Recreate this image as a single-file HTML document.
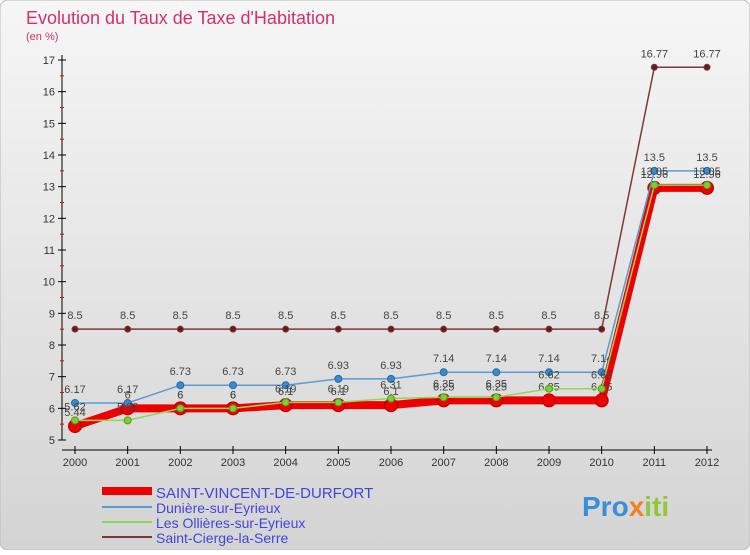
<!DOCTYPE html>
<html><head><meta charset="utf-8"><style>
body{margin:0;width:750px;height:550px;overflow:hidden;font-family:"Liberation Sans",sans-serif}
</style></head><body>
<svg id="c" width="750" height="550" xmlns="http://www.w3.org/2000/svg">
<defs><linearGradient id="bg" x1="0" y1="0" x2="0" y2="1"><stop offset="0" stop-color="#f6f6f6"/><stop offset="1" stop-color="#d4d4d4"/></linearGradient></defs>
<rect width="750" height="550" rx="8" fill="url(#bg)" stroke="#bbb"/>
<text x="26" y="24" font-size="18" fill="#d03070">Evolution du Taux de Taxe d'Habitation</text>
<text x="26" y="40" font-size="11" fill="#d03070">(en %)</text>
<g id="axes"></g><g id="series"></g>
<g>
<rect x="102" y="487" width="50" height="8" fill="#ee0000"/>
<text x="156" y="498" font-size="15" fill="#4444dd">SAINT-VINCENT-DE-DURFORT</text>
<line x1="102" y1="507" x2="152" y2="507" stroke="#5b9bd5" stroke-width="2"/>
<text x="156" y="513" font-size="14" fill="#4444dd">Dunière-sur-Eyrieux</text>
<line x1="102" y1="522" x2="152" y2="522" stroke="#8fd85a" stroke-width="2"/>
<text x="156" y="528" font-size="14" fill="#4444dd">Les Ollières-sur-Eyrieux</text>
<line x1="102" y1="537" x2="152" y2="537" stroke="#7a3a3a" stroke-width="2"/>
<text x="156" y="543" font-size="14" fill="#4444dd">Saint-Cierge-la-Serre</text>
</g>
<text x="582" y="516" font-size="28" font-weight="bold" fill="#3a8fd8">Pro<tspan fill="#f08020">x</tspan><tspan fill="#8fc83a">iti</tspan></text>
</svg>
<script>
const years=[2000,2001,2002,2003,2004,2005,2006,2007,2008,2009,2010,2011,2012];
const yTicks=[5,6,7,8,9,10,11,12,13,14,15,16,17];
const sVincent=[5.44,6,6,6,6.1,6.1,6.1,6.25,6.25,6.25,6.25,12.96,12.96];
const sDuniere=[6.17,6.17,6.73,6.73,6.73,6.93,6.93,7.14,7.14,7.14,7.14,13.5,13.5];
const sOllieres=[5.62,5.62,6,6,6.19,6.19,6.31,6.35,6.35,6.62,6.62,13.05,13.05];
const sCierge=[8.5,8.5,8.5,8.5,8.5,8.5,8.5,8.5,8.5,8.5,8.5,16.77,16.77];
const NS="http://www.w3.org/2000/svg";
const X=i=>75+i*(707-75)/(years.length-1);
const Y=v=>440-(v-5)*(380/12);
function el(t,a,p){const e=document.createElementNS(NS,t);for(const k in a)e.setAttribute(k,a[k]);p.appendChild(e);return e;}
const ax=document.getElementById('axes'),sg=document.getElementById('series');
let yl=el('line',{x1:62,y1:55,x2:62,y2:440,stroke:'#000'},ax);


let xl=el('line',{x1:62,y1:450,x2:712,y2:450,stroke:'#000'},ax);


yTicks.forEach(v=>{el('line',{x1:58,x2:66,y1:Y(v),y2:Y(v),stroke:'#000'},ax);
if(v<17)el('line',{x1:60,x2:64,y1:Y(v+0.5),y2:Y(v+0.5),stroke:'#e00'},ax);
const t=el('text',{x:55,y:Y(v)+4,'font-size':11,fill:'#333','text-anchor':'end'},ax);t.textContent=v;

});
years.forEach((y,i)=>{el('line',{x1:X(i),x2:X(i),y1:446,y2:454,stroke:'#000'},ax);
const t=el('text',{x:X(i),y:466,'font-size':11,fill:'#333','text-anchor':'middle'},ax);t.textContent=y;

});
function series(d,name,color,w,r,fill,stroke){
const g=el('g',{},sg);


el('polyline',{points:d.map((v,i)=>X(i)+','+Y(v)).join(' '),fill:'none',stroke:color,'stroke-width':w},g);
d.forEach((v,i)=>{const c=el('circle',{cx:X(i),cy:Y(v),r:r,fill:fill,stroke:stroke,'stroke-width':1},g);


const t=el('text',{x:X(i),y:Y(v)-10,'font-size':11,fill:'#444','text-anchor':'middle'},g);t.textContent=v;});
}
series(sCierge,'saint-cierge','#7a3a3a',1.5,3,'#6a1a1a','#7a3a3a');
series(sVincent,'saint-vincent','#ee0000',8,6.5,'#ee0000','#b00000');
series(sDuniere,'duniere','#5b9bd5',1.5,3.5,'#3a8ad0','#2a6aa0');
series(sOllieres,'ollieres','#8fd85a',1.5,3.5,'#7ad030','#5a9a20');
</script>
</body></html>
